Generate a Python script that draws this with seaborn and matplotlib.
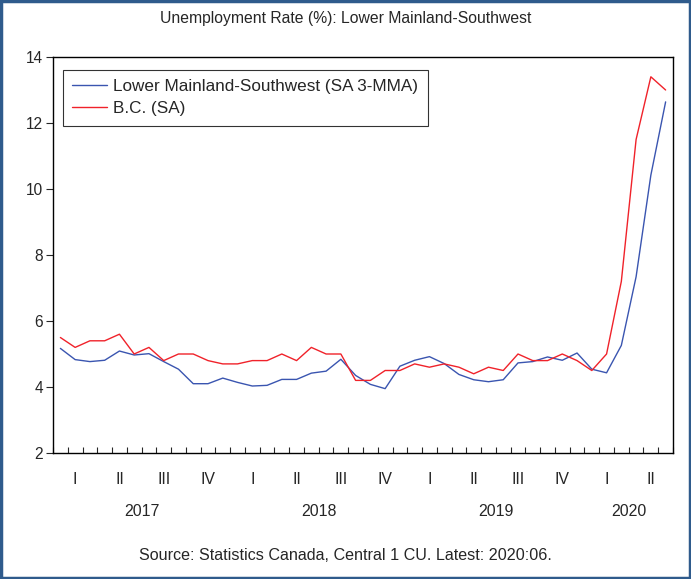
import matplotlib.pyplot as plt
import numpy as np
import pandas as pd
import seaborn as sns
from matplotlib.patches import Rectangle
from matplotlib.transforms import blended_transform_factory

# monthly, Jan 2017 - Jun 2020
lower_mainland = [
    5.17, 4.83, 4.77, 4.81, 5.09, 4.97, 5.01, 4.77, 4.54, 4.10, 4.10, 4.27,
    4.14, 4.03, 4.05, 4.23, 4.23, 4.42, 4.48, 4.84, 4.35, 4.08, 3.95, 4.63,
    4.81, 4.92, 4.71, 4.38, 4.22, 4.16, 4.22, 4.73, 4.77, 4.91, 4.81, 5.03,
    4.54, 4.43, 5.26, 7.34, 10.42, 12.64,
]
bc = [
    5.5, 5.2, 5.4, 5.4, 5.6, 5.0, 5.2, 4.8, 5.0, 5.0, 4.8, 4.7,
    4.7, 4.8, 4.8, 5.0, 4.8, 5.2, 5.0, 5.0, 4.2, 4.2, 4.5, 4.5,
    4.7, 4.6, 4.7, 4.6, 4.4, 4.6, 4.5, 5.0, 4.8, 4.8, 5.0, 4.8,
    4.5, 5.0, 7.2, 11.5, 13.4, 13.0,
]
series_names = ["Lower Mainland-Southwest (SA 3-MMA)", "B.C. (SA)"]
quarter_labels = ["I", "II", "III", "IV"] * 3 + ["I", "II"]
years = ["2017", "2018", "2019", "2020"]
months_per_year = [12, 12, 12, 6]

colors = ["#3a55b0", "#f0222a"]

n = len(bc)
month_pos = np.arange(n) + 0.5
df = pd.concat([
    pd.DataFrame({"month": month_pos, "rate": lower_mainland, "series": series_names[0]}),
    pd.DataFrame({"month": month_pos, "rate": bc, "series": series_names[1]}),
])

sns.set_style("white")
plt.rcParams["font.family"] = ["Liberation Sans", "DejaVu Sans"]

fig = plt.figure(figsize=(6.91, 5.79), dpi=100)
ax = fig.add_axes([53 / 691, 1 - 453 / 579, 620 / 691, 396 / 579])

sns.lineplot(data=df, x="month", y="rate", hue="series", palette=colors,
             linewidth=1.0, ax=ax, legend=False)

ax.set_xlim(0, n)
ax.set_ylim(2, 14)
ax.set_yticks(range(2, 15, 2))
ax.tick_params(axis="y", direction="out", length=5, width=0.8, labelsize=11.2,
               left=True, pad=2)

# month ticks point up from the axis, quarter labels sit below
ax.set_xticks(np.arange(0, n + 1), minor=True)
ax.set_xticks(np.arange(len(quarter_labels)) * 3 + 1.5)
ax.set_xticklabels(quarter_labels)
ax.tick_params(axis="x", which="minor", direction="in", length=4, width=0.8,
               bottom=True)
ax.tick_params(axis="x", which="major", length=0, labelsize=11.4, pad=14)
ax.set_xlabel("")
ax.set_ylabel("")
for s in ax.spines.values():
    s.set_color("black")
    s.set_linewidth(1.0)

trans = blended_transform_factory(ax.transData, ax.transAxes)
start = 0
for yr, m in zip(years, months_per_year):
    ax.text(start + m / 2, -0.148, yr, transform=trans, ha="center", va="center",
            fontsize=11.4)
    start += m

handles = [plt.Line2D([], [], color=c, linewidth=1.0) for c in colors]
leg = ax.legend(handles, series_names, loc="upper left", fontsize=12.3,
                frameon=True, fancybox=False, handlelength=2.05,
                handletextpad=0.35, borderpad=0.55, labelspacing=0.4,
                borderaxespad=0, bbox_to_anchor=(0.016, 0.967))
leg.get_frame().set_edgecolor("black")
leg.get_frame().set_linewidth(0.8)

fig.text(0.5, 1 - 18 / 579, "Unemployment Rate (%): Lower Mainland-Southwest",
         ha="center", va="center", fontsize=11.3)
fig.text(0.5, 1 - 556 / 579, "Source: Statistics Canada, Central 1 CU. Latest: 2020:06.",
         ha="center", va="center", fontsize=11.6)

fig.patches.append(Rectangle((0.002, 0.002), 0.996, 0.996, transform=fig.transFigure,
                             fill=False, edgecolor="#2f5b8c", linewidth=2.5))

fig.savefig("out.png", dpi=100)
